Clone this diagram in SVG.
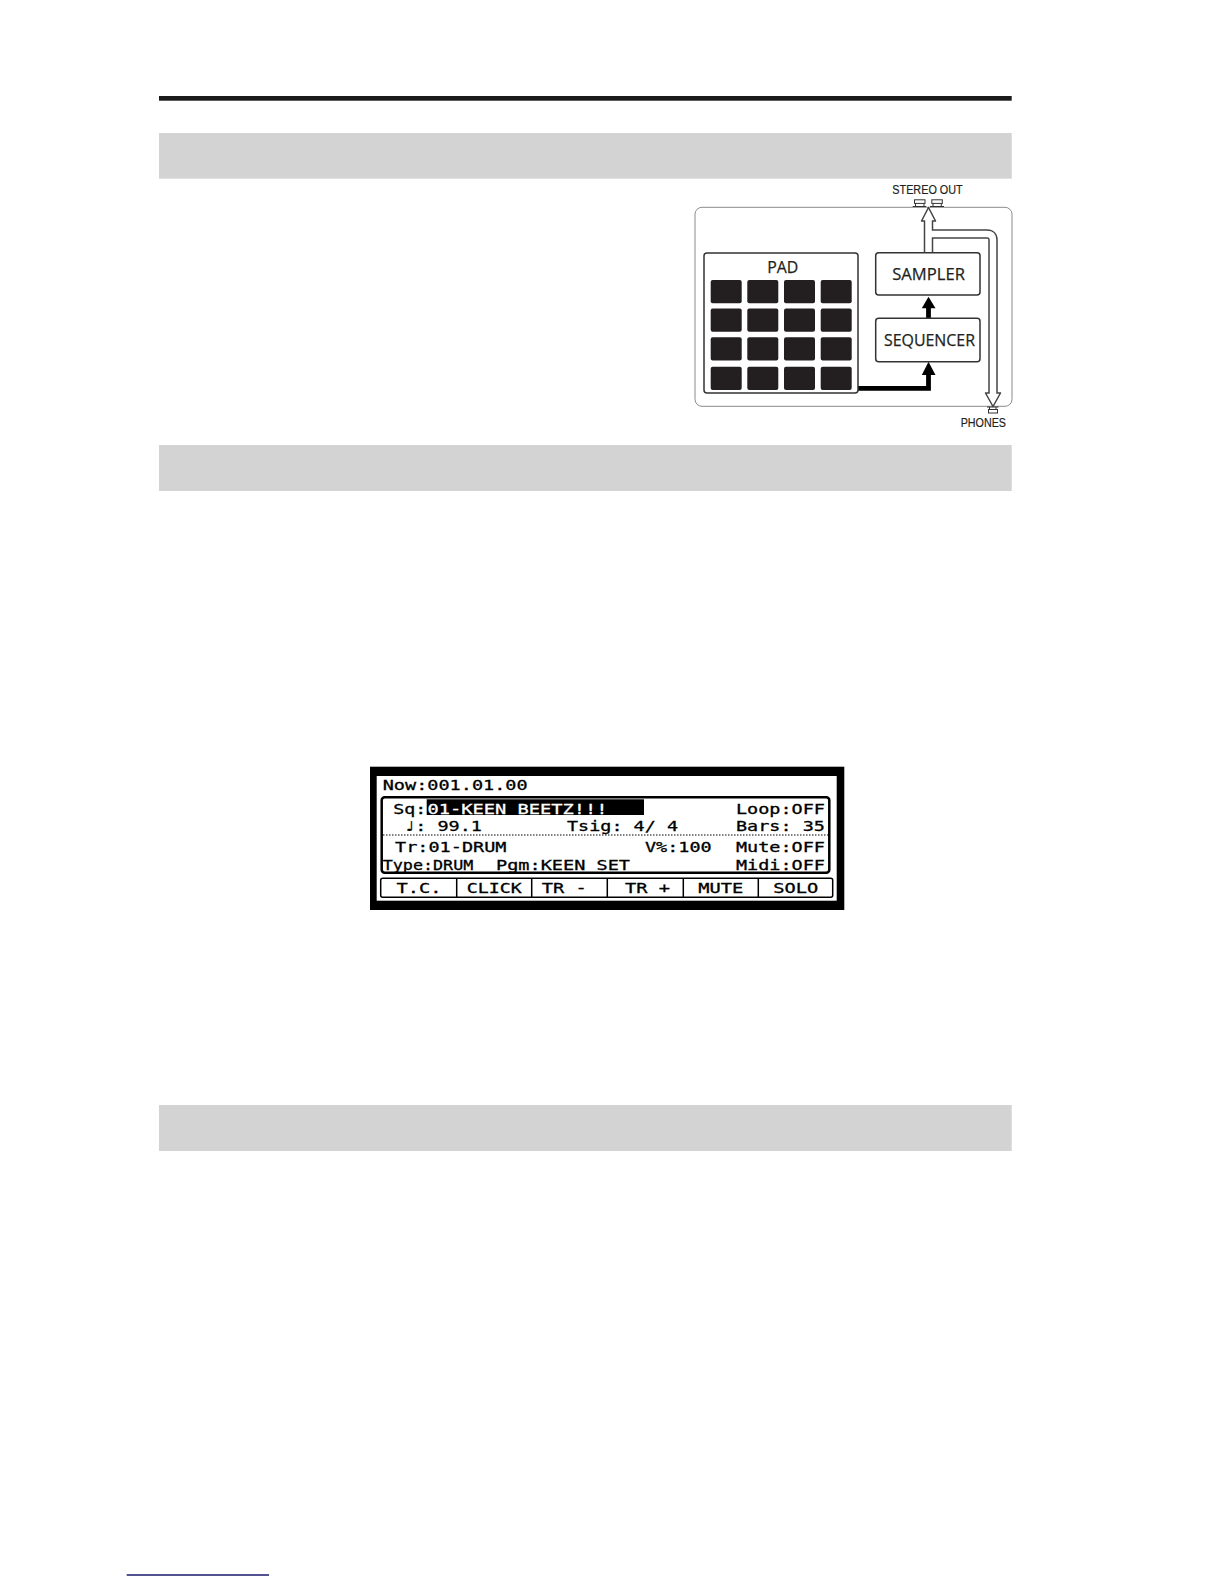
<svg xmlns="http://www.w3.org/2000/svg" width="1224" height="1584" viewBox="0 0 1224 1584">
<style>
.band{fill:#d3d3d3}
.pad{fill:#231f20}
.blk{fill:#fff;stroke:#333;stroke-width:1.5}
.lbl{font-family:"Open Sans","Liberation Sans",sans-serif;font-size:16px;fill:#231f20;stroke:#231f20;stroke-width:0.25}
.small{font-family:"Liberation Sans",Arial,sans-serif;font-size:12.5px;fill:#231f20;stroke:#231f20;stroke-width:0.2}
.lcd{font-family:"DejaVu Sans Mono","Liberation Mono",monospace;font-size:14px;fill:#000;stroke:#000;stroke-width:0.3}
.lcdw{font-family:"DejaVu Sans Mono","Liberation Mono",monospace;font-size:14px;fill:#fff;stroke:#fff;stroke-width:0.3}
</style>
<rect width="1224" height="1584" fill="#fff"/>
<rect x="159" y="96" width="852.7" height="4.7" fill="#1a1a1a"/>
<rect class="band" x="159" y="133" width="852.7" height="45.7"/>
<rect class="band" x="159" y="445" width="852.7" height="46"/>
<rect class="band" x="159" y="1105" width="852.7" height="46"/>

<g id="device-frame">
<rect x="695" y="207.3" width="317" height="199" rx="7" fill="none" stroke="#8a8a8a" stroke-width="1"/>
</g>

<g id="connectors">
<path d="M928.5,253 V221 M928.5,234 H987 Q993,234 993,240 V393" fill="none" stroke="#444" stroke-width="9.5"/>
<polygon points="921.5,221 928.5,207.5 935.5,221" fill="#fff" stroke="#444" stroke-width="1.5" stroke-linejoin="round"/>
<polygon points="985.5,393 993,406.5 1000.5,393" fill="#fff" stroke="#444" stroke-width="1.5" stroke-linejoin="round"/>
<path d="M928.5,254 V219.5 M928.5,234 H987 Q993,234 993,240 V394.5" fill="none" stroke="#fff" stroke-width="6.5"/>
<path d="M858,388.3 H928.5 V374" fill="none" stroke="#000" stroke-width="4.8"/>
<polygon points="921.8,375 935.5,375 928.5,361.7" fill="#000"/>
<path d="M928.5,318.5 V307" fill="none" stroke="#000" stroke-width="4.8"/>
<polygon points="921.8,308.3 935.5,308.3 928.5,296.7" fill="#000"/>
</g>

<g id="pad">
<rect class="blk" x="704" y="253" width="154" height="140" rx="3"/>
<text class="lbl" x="782.8" y="272.7" text-anchor="middle" textLength="31" lengthAdjust="spacingAndGlyphs">PAD</text>
<rect class="pad" x="710.7" y="280" width="31" height="23.3" rx="2"/>
<rect class="pad" x="747.3" y="280" width="31" height="23.3" rx="2"/>
<rect class="pad" x="784" y="280" width="31" height="23.3" rx="2"/>
<rect class="pad" x="820.7" y="280" width="31" height="23.3" rx="2"/>
<rect class="pad" x="710.7" y="308.5" width="31" height="23.3" rx="2"/>
<rect class="pad" x="747.3" y="308.5" width="31" height="23.3" rx="2"/>
<rect class="pad" x="784" y="308.5" width="31" height="23.3" rx="2"/>
<rect class="pad" x="820.7" y="308.5" width="31" height="23.3" rx="2"/>
<rect class="pad" x="710.7" y="337.3" width="31" height="23.3" rx="2"/>
<rect class="pad" x="747.3" y="337.3" width="31" height="23.3" rx="2"/>
<rect class="pad" x="784" y="337.3" width="31" height="23.3" rx="2"/>
<rect class="pad" x="820.7" y="337.3" width="31" height="23.3" rx="2"/>
<rect class="pad" x="710.7" y="366.7" width="31" height="23.3" rx="2"/>
<rect class="pad" x="747.3" y="366.7" width="31" height="23.3" rx="2"/>
<rect class="pad" x="784" y="366.7" width="31" height="23.3" rx="2"/>
<rect class="pad" x="820.7" y="366.7" width="31" height="23.3" rx="2"/>
</g>

<g id="sampler">
<rect class="blk" x="875.7" y="252.7" width="104.3" height="42.3" rx="3"/>
<text class="lbl" x="928.6" y="280" text-anchor="middle" textLength="72.7" lengthAdjust="spacingAndGlyphs">SAMPLER</text>
</g>

<g id="sequencer">
<rect class="blk" x="875.7" y="318.3" width="104.3" height="43.4" rx="3"/>
<text class="lbl" x="929.5" y="345.7" text-anchor="middle" textLength="91" lengthAdjust="spacingAndGlyphs">SEQUENCER</text>
</g>

<g id="stereo-out">
<text class="small" x="892.3" y="194" textLength="70.4" lengthAdjust="spacingAndGlyphs">STEREO OUT</text>
<rect x="914.5" y="199.8" width="10.5" height="3.6" fill="#fff" stroke="#333" stroke-width="1"/>
<path d="M912.7,206.5 H926.3 M915.5,203.4 V206.5 M924,203.4 V206.5" fill="none" stroke="#333" stroke-width="1"/>
<rect x="931.8" y="199.8" width="10.5" height="3.6" fill="#fff" stroke="#333" stroke-width="1"/>
<path d="M930,206.5 H944 M933,203.4 V206.5 M941.3,203.4 V206.5" fill="none" stroke="#333" stroke-width="1"/>
</g>

<g id="phones">
<path d="M987,407 H998.5 M989.5,407 V409.5 M996,407 V409.5" fill="none" stroke="#333" stroke-width="1"/>
<rect x="988.5" y="409.5" width="9" height="3.5" fill="#fff" stroke="#333" stroke-width="1"/>
<text class="small" x="960.7" y="426.7" textLength="45.3" lengthAdjust="spacingAndGlyphs">PHONES</text>
</g>

<g id="lcd">
<rect x="370" y="766.7" width="474.3" height="143.3" fill="#000"/>
<rect x="376.7" y="776" width="460" height="124.7" fill="#fff"/>
<text class="lcd" x="382.7" y="790" textLength="145" lengthAdjust="spacingAndGlyphs">Now:001.01.00</text>
<rect x="381.7" y="797.3" width="447.6" height="75.4" rx="3" fill="none" stroke="#000" stroke-width="2.5"/>
<rect x="426.7" y="799.3" width="217.3" height="15.7" fill="#000"/>
<text class="lcd" x="393.3" y="813.5" textLength="33" lengthAdjust="spacingAndGlyphs">Sq:</text>
<text class="lcdw" x="427.5" y="813.5" textLength="180" lengthAdjust="spacingAndGlyphs">01-KEEN BEETZ!!!</text>
<text class="lcd" x="736" y="813.5" textLength="89" lengthAdjust="spacingAndGlyphs">Loop:OFF</text>
<text class="lcd" x="404" y="830.5" textLength="78" lengthAdjust="spacingAndGlyphs">♩: 99.1</text>
<text class="lcd" x="567" y="830.5" textLength="111" lengthAdjust="spacingAndGlyphs">Tsig: 4/ 4</text>
<text class="lcd" x="736" y="830.5" textLength="89" lengthAdjust="spacingAndGlyphs">Bars: 35</text>
<line x1="383" y1="835" x2="828" y2="835" stroke="#000" stroke-width="1.2" stroke-dasharray="1.5,1.5"/>
<text class="lcd" x="395" y="851.5" textLength="111.5" lengthAdjust="spacingAndGlyphs">Tr:01-DRUM</text>
<text class="lcd" x="645" y="851.5" textLength="66.7" lengthAdjust="spacingAndGlyphs">V%:100</text>
<text class="lcd" x="736" y="851.5" textLength="89" lengthAdjust="spacingAndGlyphs">Mute:OFF</text>
<text class="lcd" x="382.7" y="869.5" textLength="90.6" lengthAdjust="spacingAndGlyphs">Type:DRUM</text>
<text class="lcd" x="496" y="869.5" textLength="134" lengthAdjust="spacingAndGlyphs">Pgm:KEEN SET</text>
<text class="lcd" x="736" y="869.5" textLength="89" lengthAdjust="spacingAndGlyphs">Midi:OFF</text>
<rect x="380.7" y="878.3" width="452" height="19" rx="2" fill="none" stroke="#000" stroke-width="1.5"/>
<path d="M456.7,878.3 V897.3 M531.7,878.3 V897.3 M607.3,878.3 V897.3 M683.3,878.3 V897.3 M758.3,878.3 V897.3" stroke="#000" stroke-width="1.5"/>
<text class="lcd" x="419" y="892.7" text-anchor="middle" textLength="45" lengthAdjust="spacingAndGlyphs">T.C.</text>
<text class="lcd" x="494.2" y="892.7" text-anchor="middle" textLength="55" lengthAdjust="spacingAndGlyphs">CLICK</text>
<text class="lcd" x="564.2" y="892.7" text-anchor="middle" textLength="45" lengthAdjust="spacingAndGlyphs">TR -</text>
<text class="lcd" x="647.5" y="892.7" text-anchor="middle" textLength="45" lengthAdjust="spacingAndGlyphs">TR +</text>
<text class="lcd" x="720.8" y="892.7" text-anchor="middle" textLength="45" lengthAdjust="spacingAndGlyphs">MUTE</text>
<text class="lcd" x="795.8" y="892.7" text-anchor="middle" textLength="45" lengthAdjust="spacingAndGlyphs">SOLO</text>
</g>

<line x1="126.7" y1="1575" x2="269" y2="1575" stroke="#1a1a6e" stroke-width="1.5"/>
</svg>
